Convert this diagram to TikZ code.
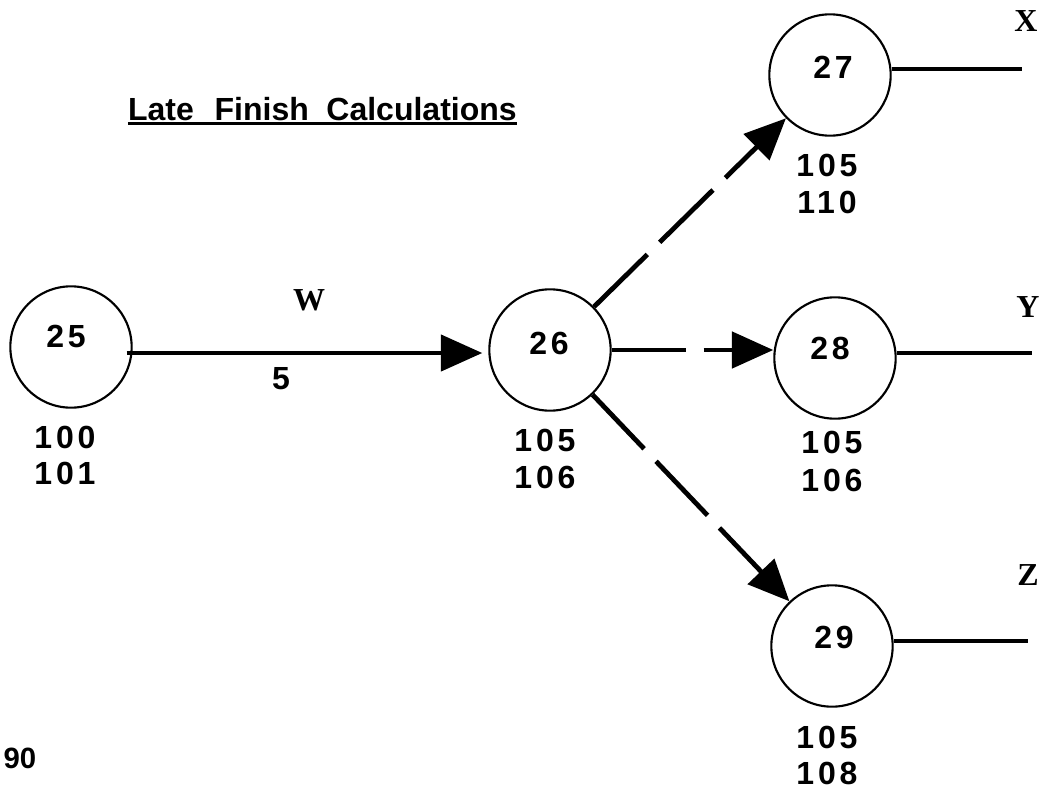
\documentclass[tikz,border=0pt]{standalone}
\usepackage{fontspec}
\usetikzlibrary{arrows.meta,calc}
\newfontfamily\numf{Liberation Sans}[LetterSpace=12]
\newfontfamily\sansf{Liberation Sans}
\newfontfamily\serf{Liberation Serif}
\tikzset{
  circ/.style={circle, draw, line width=1.6pt, minimum size=91pt, inner sep=0pt},
  num/.style={font=\numf\bfseries\fontsize{24}{27}\selectfont, inner sep=0pt},
  letter/.style={font=\serf\bfseries\fontsize{24}{27}\selectfont, inner sep=0pt},
  conn/.style={line width=3.2pt},
  arrowconn/.style={conn, -{Triangle[length=31pt,width=27pt]}},
  dashconn/.style={arrowconn, line width=3.6pt, dash pattern=on 56pt off 13pt},
}
\begin{document}
\begin{tikzpicture}[x=0.75pt,y=-0.75pt]
\useasboundingbox (0,0) rectangle (1041,789);
% title
\node[font=\sansf\bfseries\fontsize{24}{28}\selectfont, inner sep=0pt, anchor=base east] (title) at (517,120) {Late\hspace{0.65em}Finish\hspace{0.55em}Calculations};
\draw[line width=2pt] ([yshift=-2.5pt]title.base west) -- ([yshift=-2.5pt]title.base east);
% circles
\node[circ] (n25) at (71,347) {};
\node[circ] (n26) at (550,350) {};
\node[circ] (n27) at (830,75) {};
\node[circ] (n28) at (835,358) {};
\node[circ] (n29) at (832,646) {};
% numbers in circles
\node[num] (t25) at (66,336) {25};
\node[num] (t26) at (549,343) {26};
\node[num] (t27) at (833,67) {27};
\node[num] (t28) at (830,348) {28};
\node[num] (t29) at (834,637) {29};
% times under circles
\node[num] (a25) at (65,437) {100};
\node[num] (b25) at (65,473) {101};
\node[num] (a26) at (545,440) {105};
\node[num] (b26) at (545,477) {106};
\node[num] (a27) at (827,165) {105};
\node[num] (b27) at (827,202) {110};
\node[num] (a28) at (832,442) {105};
\node[num] (b28) at (832,480) {106};
\node[num] (a29) at (827,737) {105};
\node[num] (b29) at (827,773) {108};
% activity labels
\node[letter] (lw) at (309,300) {W};
\node[num] (l5) at (281,379) {5};
\node[letter] (lx) at (1026,21) {X};
\node[letter] (ly) at (1028,307) {Y};
\node[letter] (lz) at (1028,575) {Z};
\node[font=\sansf\bfseries\fontsize{22}{25}\selectfont, inner sep=0pt] (l90) at (20,758) {90};
% connectors
\draw[arrowconn] ([xshift=-4.5pt,yshift=-4.5pt]n25.east) -- ([xshift=-4.5pt,yshift=-4.5pt]n25.east -| n26.west);
\draw[dashconn] (n26) -- (n27);
\draw[dashconn] (n26.east) -- (n26.east -| n28.west);
\draw[dashconn] (n26) -- (n29);
% outgoing lines
\coordinate (xe) at (1022,69);
\coordinate (ye) at (1032,353);
\coordinate (ze) at (1028,641);
\draw[conn] (xe -| n27.east) -- (xe);
\draw[conn] (ye -| n28.east) -- (ye);
\draw[conn] (ze -| n29.east) -- (ze);
\end{tikzpicture}
\end{document}
